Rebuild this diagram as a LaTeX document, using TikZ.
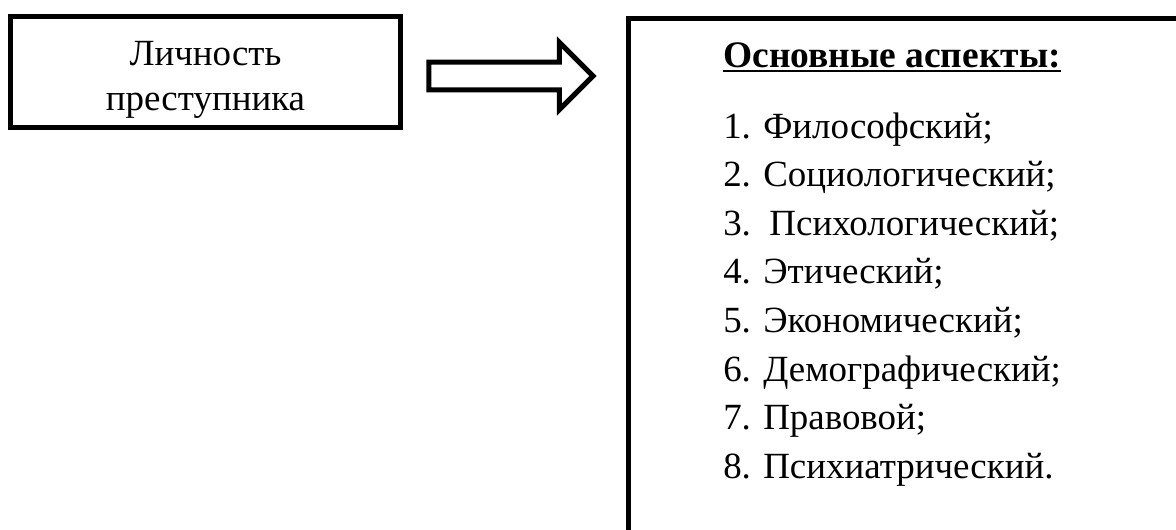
\documentclass[tikz,border=0pt]{standalone}
\usepackage{fontspec}
\setmainfont{Liberation Serif}
\usetikzlibrary{shapes.arrows}
\begin{document}
\begin{tikzpicture}[x=0.75pt,y=-0.75pt,
  boxline/.style={draw=black,line width=3.75pt},
  txt/.style={font=\fontsize{27.7}{36.6}\selectfont,inner sep=0pt},
  item/.style={txt,anchor=base west}]
\clip (0,0) rectangle (1176,529);
\fill[white] (0,0) rectangle (1176,529);
% left box
\node[boxline,rectangle,minimum width=292.5pt,minimum height=83.25pt,inner sep=0pt] (src) at (205.5,72) {};
\node[txt,anchor=base] (srcA) at (205.5,65) {Личность};
\node[txt,anchor=base] (srcB) at (205.5,110) {преступника};
% hollow block arrow
\node[boxline,single arrow,minimum height=123pt,inner xsep=0pt,inner ysep=8.6pt,
      single arrow head extend=14.8pt] (arr) at (504,76) {};
% right box (runs off the page)
\node[boxline,rectangle,anchor=north west,minimum width=600pt,minimum height=420pt,
      inner sep=0pt] (aspects) at (626,15.5) {};
% heading
\node[item,font=\fontsize{28.1}{36.6}\selectfont\bfseries] (head) at (723,67) {Основные аспекты:};
\draw[line width=2.2pt] ([yshift=-3pt]head.base west) -- ([yshift=-3pt]head.base east);
% list
\node[item] (i1) at (723,138.0) {1. Философский;};
\node[item] (i2) at (723,186.6) {2. Социологический;};
\node[item] (i3) at (723,235.2) {3.\ \ Психологический;};
\node[item] (i4) at (723,283.8) {4. Этический;};
\node[item] (i5) at (723,332.4) {5. Экономический;};
\node[item] (i6) at (723,381.0) {6. Демографический;};
\node[item] (i7) at (723,429.6) {7. Правовой;};
\node[item] (i8) at (723,478.2) {8. Психиатрический.};
\end{tikzpicture}
\end{document}
